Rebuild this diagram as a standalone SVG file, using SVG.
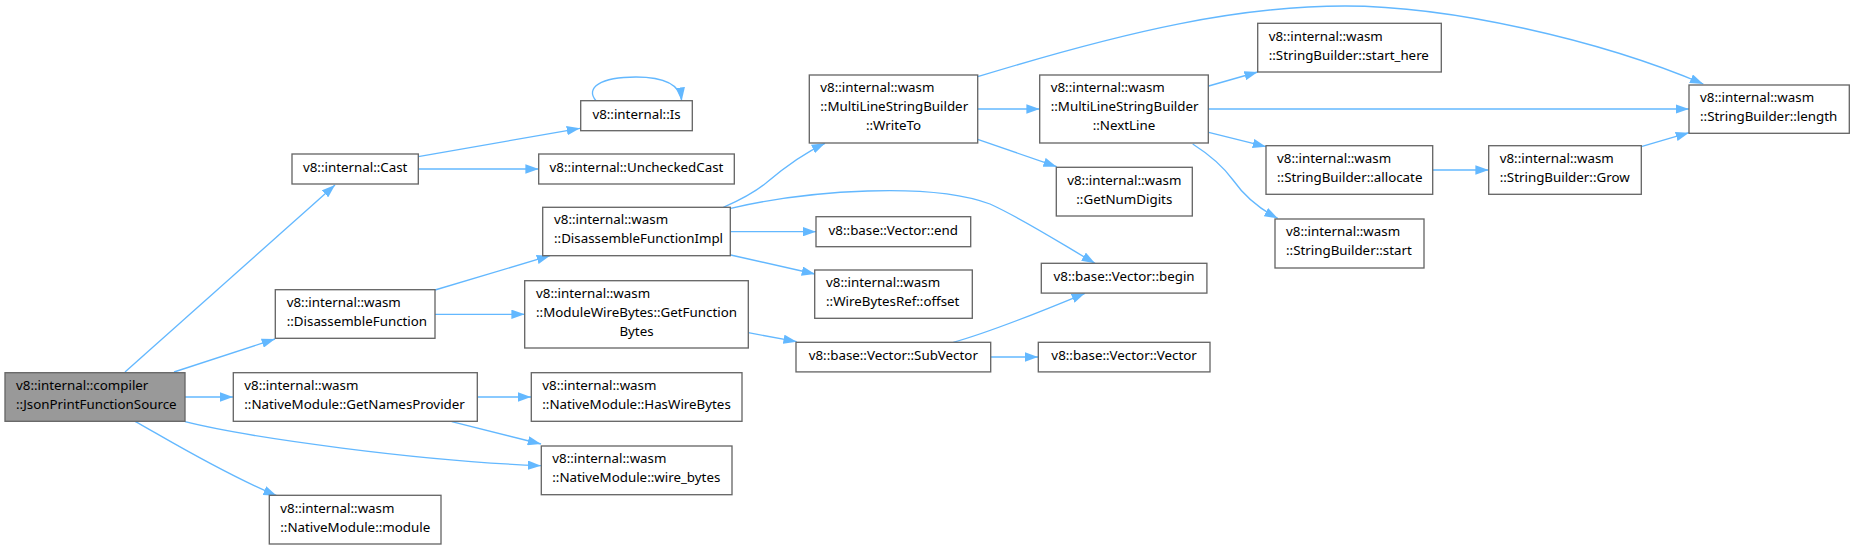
<svg xmlns="http://www.w3.org/2000/svg" width="1854" height="549" viewBox="0 0 1854 549">
<style>
.n rect{fill:#ffffff;stroke:#666666;stroke-width:1.33}
.n.root rect{fill:#999999}
.n text{font-family:"Noto Sans","Open Sans","DejaVu Sans",sans-serif;font-size:13.33px;fill:#000000}
.c{text-anchor:middle}
#edges path{fill:none;stroke:#63b8ff;stroke-width:1.33;marker-end:url(#ah)}
</style>
<defs>
<marker id="ah" viewBox="0 0 13.3 9.4" markerWidth="13.3" markerHeight="9.4" refX="13.3" refY="4.7" orient="auto" markerUnits="userSpaceOnUse">
<path d="M0,0 L13.3,4.7 L0,9.4 z" fill="#63b8ff" stroke="none"/>
</marker>
</defs>
<rect width="1854" height="549" fill="#ffffff"/>
<g id="edges">
<path d="M125,372 L335,185"/>
<path d="M174,372 L275,339"/>
<path d="M185,397 L233.3,397"/>
<path d="M185,421.7 C250,438 420,461 541,465.7"/>
<path d="M135,421.3 C160,435 220,472 276.7,495.7"/>
<path d="M418.3,156.7 L580,128.3"/>
<path d="M418.3,169 L538.7,169"/>
<path d="M596,100.7 C585,88 600,77 636,77 C665,77 680,85 681.7,100.7"/>
<path d="M435,290 L550,255.7"/>
<path d="M435,314.3 L524.7,314.3"/>
<path d="M723.3,207.3 C740,200 755,192 766,183 C780,171 800,155 825,143.3"/>
<path d="M730.3,231.7 L816,231.7"/>
<path d="M730.7,255 L815,274"/>
<path d="M730.7,208.3 C810,190 930,182 990,204 C1025,220 1060,243 1095,263.3"/>
<path d="M748.3,332.7 L796.7,341.7"/>
<path d="M953.3,342.3 C990,332 1040,312 1085,293.3"/>
<path d="M990.7,357 L1038.3,357"/>
<path d="M477.3,397 L531.3,397"/>
<path d="M451.7,421.7 L541,444"/>
<path d="M977.7,109 L1039.7,109"/>
<path d="M977.7,139.3 L1056.7,166.7"/>
<path d="M977.7,76.7 C1130,30 1240,6 1345,6 C1450,6 1600,40 1703.3,84"/>
<path d="M1208.7,86 L1257.7,72"/>
<path d="M1208.7,109 L1689,109"/>
<path d="M1208.7,132.3 L1266,146.7"/>
<path d="M1192.7,144 C1210,155 1222,165 1233,180 C1245,197 1258,208 1277.7,218.3"/>
<path d="M1432.7,170 L1488.7,170"/>
<path d="M1641.3,146.7 L1689,132.7"/>
</g>
<g id="n_json" class="n root"><rect x="5" y="372.7" width="180" height="48.6"/><text x="16" y="389.8">v8::internal::compiler</text><text x="16" y="408.8">::JsonPrintFunctionSource</text></g>
<g id="n_cast" class="n"><rect x="292" y="154" width="126.3" height="30"/><text class="c" x="355.2" y="172">v8::internal::Cast</text></g>
<g id="n_is" class="n"><rect x="580.7" y="100.7" width="111.6" height="30"/><text class="c" x="636.5" y="118.7">v8::internal::Is</text></g>
<g id="n_unchecked" class="n"><rect x="538.7" y="154" width="195.6" height="30"/><text class="c" x="636.5" y="172">v8::internal::UncheckedCast</text></g>
<g id="n_disfunc" class="n"><rect x="275.3" y="289.7" width="159.7" height="48.6"/><text x="286.7" y="306.8">v8::internal::wasm</text><text x="286.7" y="325.8">::DisassembleFunction</text></g>
<g id="n_impl" class="n"><rect x="542.7" y="207.3" width="187.6" height="48.4"/><text x="554" y="224.3">v8::internal::wasm</text><text x="554" y="243.3">::DisassembleFunctionImpl</text></g>
<g id="n_getfb" class="n"><rect x="524.7" y="280.7" width="223.6" height="67.3"/><text x="536" y="297.6">v8::internal::wasm</text><text x="536" y="316.6">::ModuleWireBytes::GetFunction</text><text class="c" x="636.5" y="335.6">Bytes</text></g>
<g id="n_getnames" class="n"><rect x="233.3" y="372.7" width="244" height="48.6"/><text x="244.3" y="389.8">v8::internal::wasm</text><text x="244.3" y="408.8">::NativeModule::GetNamesProvider</text></g>
<g id="n_module" class="n"><rect x="269.3" y="495.3" width="171.7" height="48.7"/><text x="280.3" y="512.5">v8::internal::wasm</text><text x="280.3" y="531.5">::NativeModule::module</text></g>
<g id="n_haswire" class="n"><rect x="531.3" y="372.7" width="210.7" height="48.6"/><text x="542.3" y="389.8">v8::internal::wasm</text><text x="542.3" y="408.8">::NativeModule::HasWireBytes</text></g>
<g id="n_wirebytes" class="n"><rect x="541.3" y="446" width="190.7" height="48.7"/><text x="552.3" y="463.1">v8::internal::wasm</text><text x="552.3" y="482.1">::NativeModule::wire_bytes</text></g>
<g id="n_end" class="n"><rect x="816" y="216.7" width="154.7" height="30"/><text class="c" x="893.3" y="234.7">v8::base::Vector::end</text></g>
<g id="n_offset" class="n"><rect x="814.7" y="270" width="157.6" height="48.3"/><text x="826" y="287">v8::internal::wasm</text><text x="826" y="306">::WireBytesRef::offset</text></g>
<g id="n_subvector" class="n"><rect x="796" y="342.3" width="194.7" height="29.6"/><text class="c" x="893.3" y="360">v8::base::Vector::SubVector</text></g>
<g id="n_writeto" class="n"><rect x="809.3" y="75" width="168.4" height="68"/><text x="820.3" y="92.3">v8::internal::wasm</text><text x="820.3" y="111.3">::MultiLineStringBuilder</text><text class="c" x="893.5" y="130.3">::WriteTo</text></g>
<g id="n_nextline" class="n"><rect x="1039.7" y="75" width="168.6" height="68"/><text x="1050.7" y="92.3">v8::internal::wasm</text><text x="1050.7" y="111.3">::MultiLineStringBuilder</text><text class="c" x="1124" y="130.3">::NextLine</text></g>
<g id="n_numdigits" class="n"><rect x="1056.3" y="167.3" width="136" height="48.7"/><text class="c" x="1124.3" y="184.5">v8::internal::wasm</text><text class="c" x="1124.3" y="203.5">::GetNumDigits</text></g>
<g id="n_begin" class="n"><rect x="1041.3" y="263.3" width="165.6" height="29.8"/><text class="c" x="1124.1" y="281.2">v8::base::Vector::begin</text></g>
<g id="n_vector" class="n"><rect x="1038.3" y="342.3" width="171.7" height="29.6"/><text class="c" x="1124.1" y="360">v8::base::Vector::Vector</text></g>
<g id="n_starthere" class="n"><rect x="1257.7" y="23.3" width="183.6" height="48.7"/><text x="1268.7" y="40.5">v8::internal::wasm</text><text x="1268.7" y="59.5">::StringBuilder::start_here</text></g>
<g id="n_allocate" class="n"><rect x="1266" y="145.7" width="166.7" height="48.6"/><text x="1277" y="162.8">v8::internal::wasm</text><text x="1277" y="181.8">::StringBuilder::allocate</text></g>
<g id="n_start" class="n"><rect x="1275" y="219" width="149" height="49"/><text x="1286" y="236.3">v8::internal::wasm</text><text x="1286" y="255.3">::StringBuilder::start</text></g>
<g id="n_grow" class="n"><rect x="1488.7" y="145.7" width="152.6" height="48.6"/><text x="1499.7" y="162.8">v8::internal::wasm</text><text x="1499.7" y="181.8">::StringBuilder::Grow</text></g>
<g id="n_length" class="n"><rect x="1689" y="85" width="160.3" height="48.3"/><text x="1700" y="102">v8::internal::wasm</text><text x="1700" y="121">::StringBuilder::length</text></g>
</svg>
